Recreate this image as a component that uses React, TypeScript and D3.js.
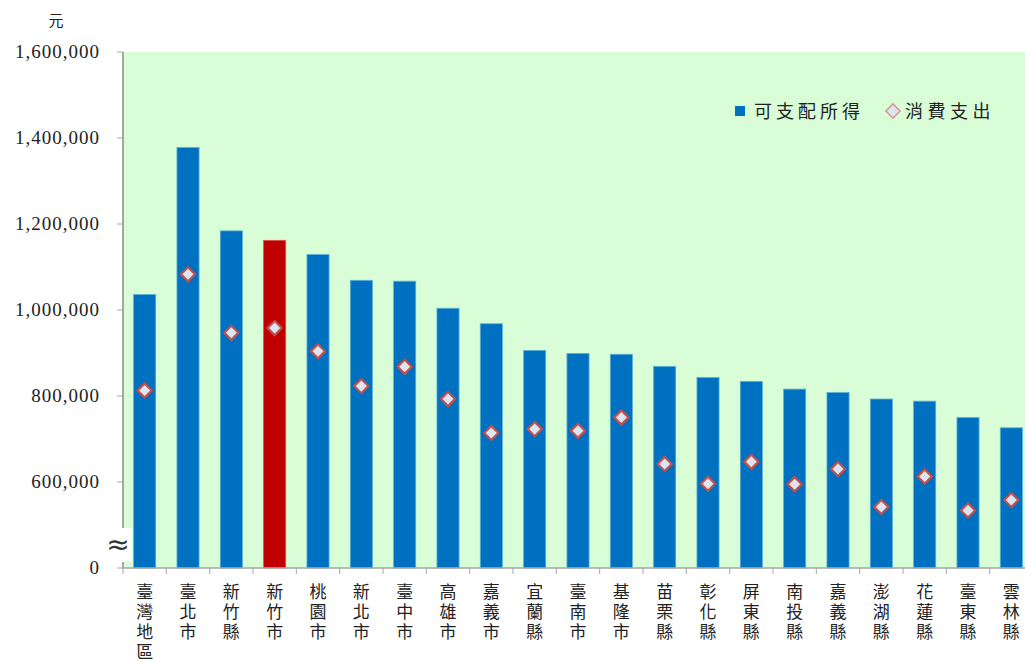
import React, { useEffect, useRef } from 'react';
import * as d3 from 'd3';

const regions = ['臺灣地區', '臺北市', '新竹縣', '新竹市', '桃園市', '新北市', '臺中市', '高雄市', '嘉義市', '宜蘭縣', '臺南市',
  '基隆市', '苗栗縣', '彰化縣', '屏東縣', '南投縣', '嘉義縣', '澎湖縣', '花蓮縣', '臺東縣', '雲林縣'];
const income = [1036000, 1378000, 1184000, 1162000, 1129000, 1069000, 1067000, 1004000, 968000, 906000, 899000,
  897000, 869000, 843000, 834000, 816000, 808000, 793000, 788000, 750000, 726000];
const spending = [813000, 1083000, 947000, 958000, 904000, 823000, 868000, 793000, 714000, 723000, 719000,
  750000, 642000, 596000, 647000, 595000, 630000, 542000, 613000, 534000, 558000];
const yTicks = [400000, 600000, 800000, 1000000, 1200000, 1400000, 1600000];
const highlight = '新竹市';

export default function App() {
  const ref = useRef<SVGSVGElement>(null);

  useEffect(() => {
    const svg = d3.select(ref.current);
    svg.selectAll('*').remove();

    const left = 123, top = 52, bottom = 568;
    const x = d3.scaleBand().domain(regions).range([left, left + 910]).paddingInner(0.49).paddingOuter(0.245);
    // axis is broken below 600,000, bottom gridline labelled 0
    const y = d3.scaleLinear().domain([400000, 1600000]).range([bottom, top]);

    svg.append('rect').attr('x', left).attr('y', top).attr('width', 1025 - left).attr('height', bottom - top)
      .attr('fill', '#D9FDD6');

    // y axis
    const fmt = d3.format(',');
    const yg = svg.append('g');
    yg.append('line').attr('x1', left).attr('x2', left).attr('y1', top).attr('y2', bottom)
      .attr('stroke', '#A6A6A6').attr('stroke-width', 2);
    yg.selectAll('line.tick').data(yTicks).join('line').attr('class', 'tick')
      .attr('x1', 117).attr('x2', left).attr('y1', d => y(d)).attr('y2', d => y(d))
      .attr('stroke', '#A6A6A6').attr('stroke-width', 1);
    yg.selectAll('text').data(yTicks).join('text')
      .attr('x', 100).attr('y', d => y(d) + 6).attr('text-anchor', 'end')
      .attr('font-family', '"Liberation Serif", serif').attr('font-size', 19).attr('letter-spacing', 1)
      .attr('fill', '#222').text(d => d === 400000 ? '0' : fmt(d));

    svg.append('text').attr('x', 56).attr('y', 26).attr('text-anchor', 'middle')
      .attr('font-family', '"Noto Sans CJK TC", sans-serif').attr('font-size', 15).attr('fill', '#222').text('元');

    // bars
    svg.selectAll('rect.bar').data(regions).join('rect').attr('class', 'bar')
      .attr('x', d => x(d)!).attr('width', x.bandwidth())
      .attr('y', (d, i) => y(income[i])).attr('height', (d, i) => bottom - y(income[i]))
      .attr('fill', d => d === highlight ? '#C00000' : '#0070C0')
      .attr('stroke', d => d === highlight ? '#D9534F' : '#5AB0D8').attr('stroke-width', 0.8);

    // spending markers
    const diamond = d3.symbol(d3.symbolSquare, 100);
    svg.selectAll('path.pt').data(regions).join('path').attr('class', 'pt')
      .attr('d', diamond)
      .attr('transform', (d, i) => `translate(${x(d)! + x.bandwidth() / 2},${y(spending[i])}) rotate(45)`)
      .attr('fill', '#DCE6F2').attr('stroke', '#C0504D').attr('stroke-width', 2.2);

    // x axis
    const xg = svg.append('g');
    xg.append('line').attr('x1', left - 1).attr('x2', 1025).attr('y1', bottom).attr('y2', bottom)
      .attr('stroke', '#A6A6A6').attr('stroke-width', 1.5);
    xg.selectAll('line.tick').data(d3.range(regions.length + 1)).join('line').attr('class', 'tick')
      .attr('x1', i => left + i * x.step()).attr('x2', i => left + i * x.step())
      .attr('y1', bottom).attr('y2', bottom + 6).attr('stroke', '#A6A6A6');
    xg.selectAll('text').data(regions).join('text')
      .attr('font-family', '"Noto Sans CJK TC", sans-serif').attr('font-size', 17).attr('fill', '#222')
      .attr('text-anchor', 'middle')
      .each(function (d) {
        const cx = x(d)! + x.bandwidth() / 2;
        d3.select(this).selectAll('tspan').data(Array.from(d)).join('tspan')
          .attr('x', cx).attr('y', (c, k) => 598 + k * 20).text(c => c);
      });

    // axis break mark
    svg.append('rect').attr('x', 103).attr('y', 528).attr('width', 29).attr('height', 34).attr('fill', '#fff');
    svg.append('text').attr('x', 118).attr('y', 554).attr('text-anchor', 'middle')
      .attr('font-family', '"DejaVu Sans", sans-serif').attr('font-size', 28).attr('fill', '#333').text('≈');

    // legend
    const lg = svg.append('g');
    lg.append('rect').attr('x', 735).attr('y', 106).attr('width', 10).attr('height', 10).attr('fill', '#0070C0');
    lg.append('text').attr('x', 754).attr('y', 118).attr('font-family', '"Noto Sans CJK TC", sans-serif')
      .attr('font-size', 18).attr('letter-spacing', 4).attr('fill', '#222').text('可支配所得');
    lg.append('path').attr('d', diamond).attr('transform', 'translate(893,111) rotate(45)')
      .attr('fill', '#DCE6F2').attr('stroke', '#D99694').attr('stroke-width', 1.5);
    lg.append('text').attr('x', 905).attr('y', 118).attr('font-family', '"Noto Sans CJK TC", sans-serif')
      .attr('font-size', 18).attr('letter-spacing', 4.5).attr('fill', '#222').text('消費支出');
  }, []);

  return (
    <div style={{ position: 'absolute', left: 0, top: 0 }}>
      <svg ref={ref} width={1025} height={662} style={{ display: 'block', background: '#fff' }} />
    </div>
  );
}
